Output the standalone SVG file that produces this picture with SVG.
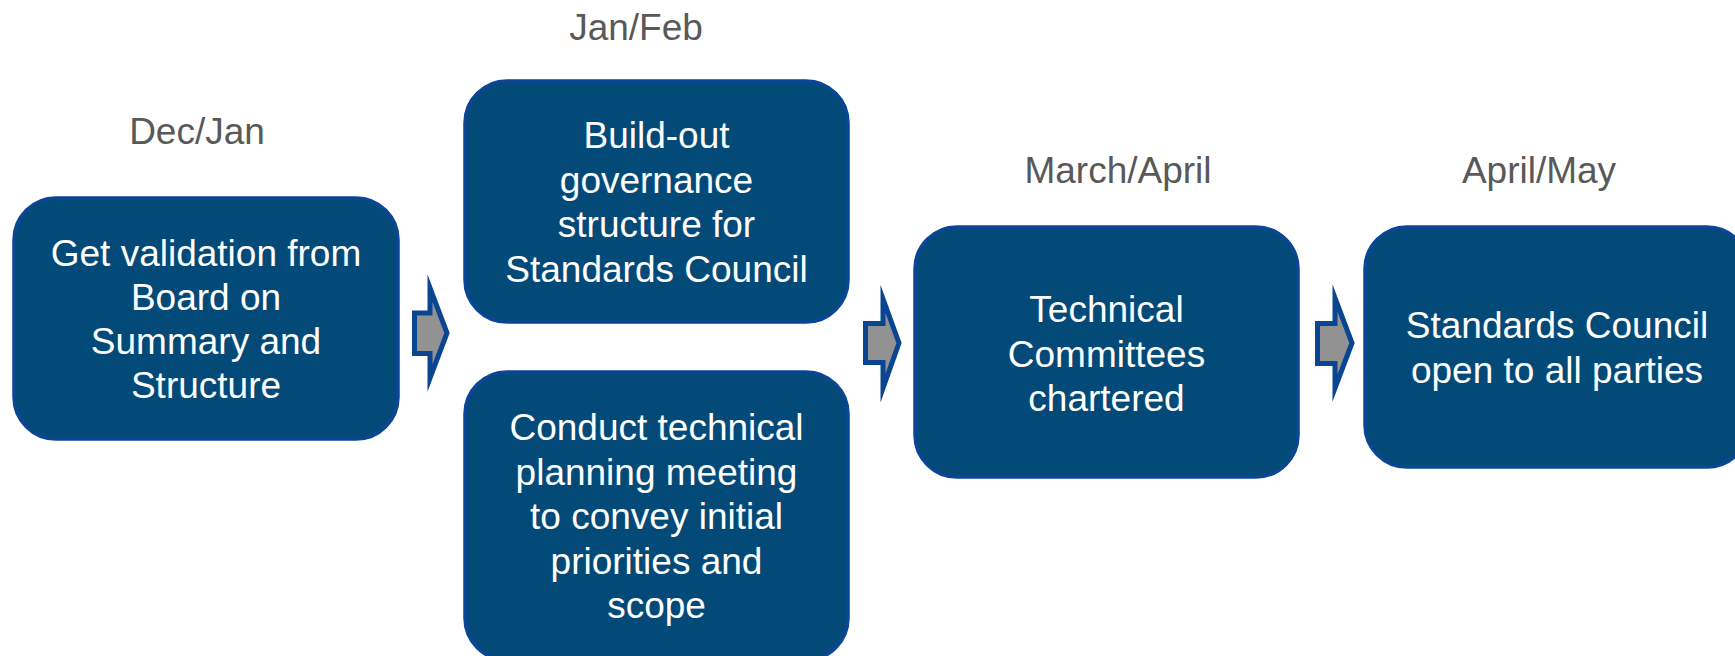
<svg xmlns="http://www.w3.org/2000/svg" width="1735" height="656" viewBox="0 0 1735 656">
<style>
.node{fill:#034a78;stroke:#0b4595;stroke-width:3.5}
.nt{font-family:"Liberation Sans",Arial,sans-serif;font-size:37px;fill:#ffffff;text-anchor:middle}
.lbl{font-family:"Liberation Sans",Arial,sans-serif;font-size:37px;fill:#595959;text-anchor:middle}
.arr{fill:#929292;stroke:#0a4592;stroke-width:5;stroke-linejoin:miter;stroke-miterlimit:10}
</style>
<rect width="1735" height="656" fill="#ffffff"/>
<g id="labels">
<text class="lbl" x="197" y="144">Dec/Jan</text>
<text class="lbl" x="636" y="40">Jan/Feb</text>
<text class="lbl" x="1118" y="183">March/April</text>
<text class="lbl" x="1539" y="183">April/May</text>
</g>
<g id="node1">
<rect class="node" x="14" y="198" width="384" height="241" rx="42"/>
<text class="nt" x="206" y="266">Get validation from</text>
<text class="nt" x="206" y="310">Board on</text>
<text class="nt" x="206" y="354">Summary and</text>
<text class="nt" x="206" y="398">Structure</text>
</g>
<g id="node2">
<rect class="node" x="465" y="81" width="383" height="241" rx="42"/>
<text class="nt" x="656.5" y="148">Build-out</text>
<text class="nt" x="656.5" y="192.5">governance</text>
<text class="nt" x="656.5" y="237">structure for</text>
<text class="nt" x="656.5" y="281.5">Standards Council</text>
</g>
<g id="node3">
<rect class="node" x="465" y="372" width="383" height="288" rx="42"/>
<text class="nt" x="656.5" y="440">Conduct technical</text>
<text class="nt" x="656.5" y="484.5">planning meeting</text>
<text class="nt" x="656.5" y="529">to convey initial</text>
<text class="nt" x="656.5" y="573.5">priorities and</text>
<text class="nt" x="656.5" y="618">scope</text>
</g>
<g id="node4">
<rect class="node" x="915" y="227" width="383" height="250" rx="42"/>
<text class="nt" x="1106.5" y="322">Technical</text>
<text class="nt" x="1106.5" y="366.5">Committees</text>
<text class="nt" x="1106.5" y="411">chartered</text>
</g>
<g id="node5">
<rect class="node" x="1365" y="227" width="384" height="240" rx="42"/>
<text class="nt" x="1557" y="338">Standards Council</text>
<text class="nt" x="1557" y="383">open to all parties</text>
</g>
<g id="connectors">
<path class="arr" d="M414.5,313 L430,313 L430,288 L447,333 L430,378 L430,353.5 L414.5,353.5 Z"/>
<path class="arr" d="M865.5,323.5 L883,323.5 L883,299 L899,343 L883,388 L883,362.5 L865.5,362.5 Z"/>
<path class="arr" d="M1317.5,323.5 L1335,323.5 L1335,298 L1352,343 L1335,388 L1335,363.5 L1317.5,363.5 Z"/>
</g>
</svg>
